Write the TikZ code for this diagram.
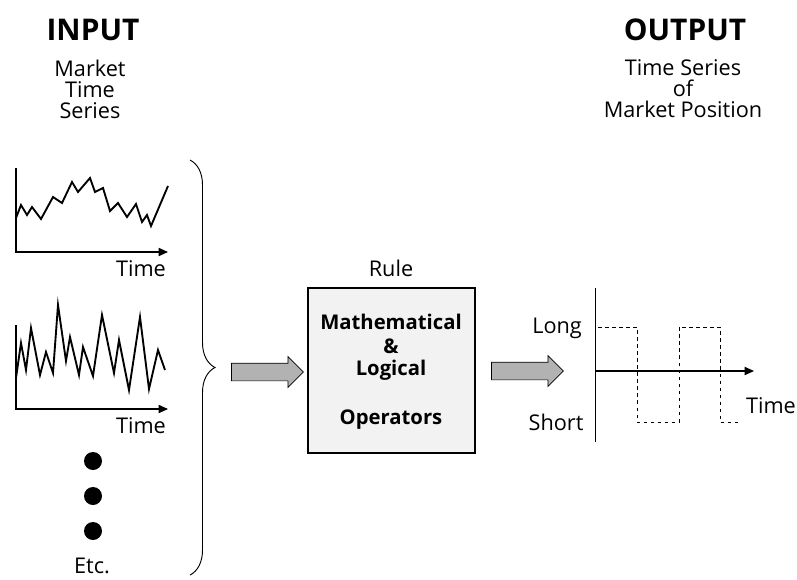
\documentclass[tikz,border=0pt]{standalone}
\usepackage{fontspec}
\setmainfont{Open Sans}
\usetikzlibrary{positioning}
\usetikzlibrary{arrows.meta}
\usetikzlibrary{shapes.arrows}
\usetikzlibrary{decorations.pathreplacing}

\tikzset{
  title/.style={font=\fontsize{25.5}{28}\selectfont\bfseries, inner sep=0pt},
  lbl/.style={font=\fontsize{18.5}{18}\selectfont, align=center, inner sep=0pt},
  boxtxt/.style={font=\fontsize{17.3}{18}\selectfont\bfseries, align=center, inner sep=0pt},
  axis/.style={line width=1pt, ->},
  series/.style={line width=1.6pt, line join=miter},
  fatarrow/.style={single arrow, draw, fill=gray!60, line width=0.6pt,
    minimum height=2.16cm, inner xsep=0pt, inner ysep=0.255cm,
    single arrow head extend=0.2cm},
}

\begin{document}
\begin{tikzpicture}[x=0.03cm, y=-0.03cm, >={Triangle[length=8pt,width=7pt]}]
  \useasboundingbox (0,0) rectangle (797,579);

  % headings
  \node[title] (inT) at (93,30) {INPUT};
  \node[lbl] (inS) at (90,89) {Market\\Time\\Series};
  \node[title] (outT) at (685,30) {OUTPUT};
  \node[lbl] (outS) at (683,89) {Time Series\\of\\Market Position};

  % first market series
  \coordinate (o1) at (16,252);
  \draw[axis] (16,168) -- (o1) -- (168,252);
  \node[lbl] (t1) at (141,269) {Time};
  \draw[series] plot coordinates {(16,218) (21,205) (27,215) (32,207) (41,219) (53,197)
    (62,203) (72,182) (78,192) (90,178) (95,192) (103,188) (110,211) (118,203) (127,217)
    (136,204) (142,222) (147,215) (151,226) (168,186)};

  % second market series
  \coordinate (o2) at (16,409);
  \draw[axis] (16,325) -- (o2) -- (168,409);
  \node[lbl] (t2) at (141,426) {Time};
  \draw[series] plot coordinates {(16,378) (21,343) (26,370) (31,328) (40,375) (46,352)
    (53,373) (58,305) (66,361) (70,337) (79,375) (83,347) (93,376) (102,315) (114,373)
    (119,340) (129,390) (140,317) (149,389) (158,350) (165,370)};

  % etc.
  \foreach \y/\n in {461/1,496/2,531/3}
    \fill (93,\y) circle (9) coordinate (d\n);
  \node[lbl] (etc) at (92,566) {Etc.};

  \draw[decorate, decoration={brace, amplitude=0.75cm}, line width=0.8pt]
    (190,160) -- (190,575);

  % rule
  \node[fatarrow] (a1) at (263,372) {};
  \node[draw, line width=1.4pt, fill=gray!10, minimum width=5.01cm, minimum height=4.95cm,
    inner sep=0pt] (rule) at (391.5,370.5) {};
  \node[lbl] (ruleT) at (391,268) {Rule};
  \node[boxtxt] (m1) at (391,322) {Mathematical};
  \node[boxtxt] (m2) at (391,346) {\&};
  \node[boxtxt] (m3) at (391,370) {Logical};
  \node[boxtxt] (m4) at (391,420) {Operators};
  \node[fatarrow] (a2) at (523,371) {};

  % market position
  \coordinate (o3) at (595,371);
  \draw[line width=0.8pt] (595,288) -- (595,442);
  \draw[axis] (o3) -- (754,371);
  \node[lbl] (t3) at (771,406) {Time};
  \node[lbl] (long) at (557,328) {Long};
  \node[lbl] (short) at (556,422) {Short};
  \draw[line width=0.7pt, dash pattern=on 3pt off 3pt]
    (598,327) -- (637,327) -- (637,422) -- (679,422) -- (679,327) -- (720,327)
    -- (720,422) -- (739,422);
\end{tikzpicture}
\end{document}
